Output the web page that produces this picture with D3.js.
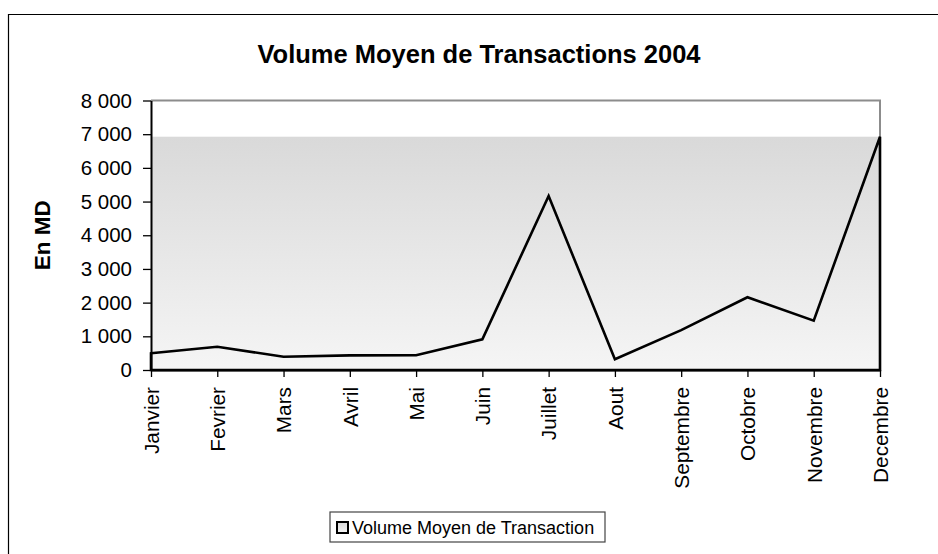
<!DOCTYPE html>
<html>
<head>
<meta charset="utf-8">
<script src="https://cdn.jsdelivr.net/npm/d3@7"></script>
<style>
  body { margin: 0; background: #fff; }
  svg { display: block; font-family: Arial, "Liberation Sans", sans-serif; }
</style>
</head>
<body>
<svg id="chart" width="938" height="554"></svg>
<script>
// data
const months = ['Janvier', 'Fevrier', 'Mars', 'Avril', 'Mai', 'Juin',
  'Juillet', 'Aout', 'Septembre', 'Octobre', 'Novembre', 'Decembre'];
const volumes = [495, 690, 395, 435, 440, 910, 5165, 320, 1185, 2160, 1465, 6925];
const yTicks = [0, 1000, 2000, 3000, 4000, 5000, 6000, 7000, 8000];

const title = 'Volume Moyen de Transactions 2004';
const yLabel = 'En MD';
const legendLabel = 'Volume Moyen de Transaction';

const width = 938, height = 554;
const margin = {top: 100.5, right: 58, bottom: 184, left: 151};
const innerWidth = width - margin.left - margin.right;
const innerHeight = height - margin.top - margin.bottom;

const svg = d3.select('#chart');

// outer chart border (only top + left are visible in the picture)
svg.append('path')
  .attr('d', `M8.5,${height}V14.5H${width}`)
  .attr('fill', 'none')
  .attr('stroke', '#000')
  .attr('stroke-width', 1.2);

const defs = svg.append('defs');
const grad = defs.append('linearGradient')
  .attr('id', 'fillGrad')
  .attr('x1', 0).attr('y1', 0).attr('x2', 0).attr('y2', 1);
grad.append('stop').attr('offset', '0%').attr('stop-color', '#d9d9d9');
grad.append('stop').attr('offset', '100%').attr('stop-color', '#f5f5f5');

const data = months.map((m, i) => ({month: m, value: volumes[i]}));

const xScale = d3.scalePoint()
  .domain(months)
  .range([0, innerWidth]);

const yScale = d3.scaleLinear()
  .domain([0, 8000])
  .range([innerHeight, 0]);

const g = svg.append('g')
  .attr('transform', `translate(${margin.left},${margin.top})`);

// shaded band up to the highest value
const maxVal = d3.max(volumes);
g.append('rect')
  .attr('x', 0)
  .attr('y', yScale(maxVal))
  .attr('width', innerWidth)
  .attr('height', yScale(0) - yScale(maxVal))
  .attr('fill', 'url(#fillGrad)');

// top + right frame in gray
g.append('path')
  .attr('d', `M0,0H${innerWidth}V${innerHeight}`)
  .attr('fill', 'none')
  .attr('stroke', '#8c8c8c')
  .attr('stroke-width', 2);

// series outline (area style: drops to zero at both ends)
const area = d3.area()
  .x(d => xScale(d.month))
  .y0(yScale(0))
  .y1(d => yScale(d.value));

g.append('path')
  .datum(data)
  .attr('d', area)
  .attr('fill', 'none')
  .attr('stroke', '#000')
  .attr('stroke-width', 2.6)
  .attr('stroke-linejoin', 'miter');

const locale = d3.formatLocale({decimal: ',', thousands: ' ', grouping: [3], currency: ['', '']});
const fmt = locale.format(',d');

const yAxis = d3.axisLeft(yScale)
  .tickValues(yTicks)
  .tickFormat(fmt)
  .tickSize(8)
  .tickPadding(11)
  .tickSizeOuter(0);

const yAxisG = g.append('g').attr('class', 'yAxis').call(yAxis);
yAxisG.select('.domain').attr('stroke', '#000').attr('stroke-width', 2);
yAxisG.selectAll('.tick line').attr('stroke', '#000').attr('stroke-width', 1.3);
yAxisG.selectAll('text')
  .attr('fill', '#000')
  .style('font-size', '20.5px');

const xAxis = d3.axisBottom(xScale)
  .tickSize(7)
  .tickSizeOuter(0);

const xAxisG = g.append('g')
  .attr('class', 'xAxis')
  .attr('transform', `translate(0,${innerHeight})`)
  .call(xAxis);
xAxisG.select('.domain').attr('stroke', '#000').attr('stroke-width', 2);
xAxisG.selectAll('.tick line').attr('stroke', '#000').attr('stroke-width', 1.3);
xAxisG.selectAll('text')
  .attr('fill', '#000')
  .style('font-size', '20.8px')
  .attr('text-anchor', 'end')
  .attr('transform', 'rotate(-90)')
  .attr('x', -17)
  .attr('y', 0)
  .attr('dy', '0.35em');

// y axis title
svg.append('text')
  .attr('transform', `translate(50,${margin.top + innerHeight / 2}) rotate(-90)`)
  .attr('text-anchor', 'middle')
  .style('font-size', '22.5px')
  .style('font-weight', 'bold')
  .text(yLabel);

// chart title
svg.append('text')
  .attr('x', 479)
  .attr('y', 63)
  .attr('text-anchor', 'middle')
  .style('font-size', '25.5px')
  .style('font-weight', 'bold')
  .text(title);

// legend
const legend = svg.append('g').attr('transform', 'translate(330,512)');
legend.append('rect')
  .attr('width', 275).attr('height', 30)
  .attr('fill', '#fff')
  .attr('stroke', '#444')
  .attr('stroke-width', 1.2);
legend.append('rect')
  .attr('x', 7).attr('y', 10)
  .attr('width', 11).attr('height', 11)
  .attr('fill', 'url(#fillGrad)')
  .attr('stroke', '#000')
  .attr('stroke-width', 2);
legend.append('text')
  .attr('x', 22).attr('y', 22)
  .style('font-size', '18px')
  .text(legendLabel);
</script>
</body>
</html>
